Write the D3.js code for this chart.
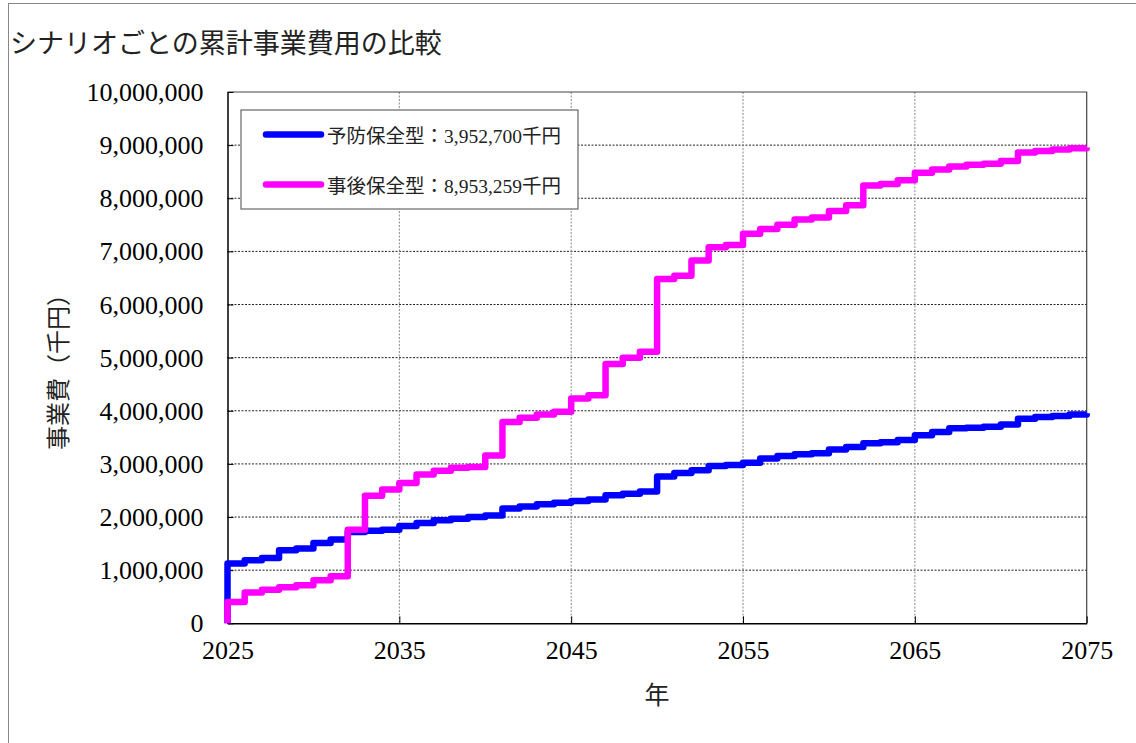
<!DOCTYPE html>
<html><head><meta charset="utf-8">
<script src="https://cdn.jsdelivr.net/npm/d3@7"></script>
<style>
html,body{margin:0;padding:0;background:#fff;}
svg{display:block;}
</style></head>
<body>
<svg id="chart" width="1136" height="743"></svg>
<script>
const title = "シナリオごとの累計事業費用の比較";
const yTitle = "事業費（千円）";
const xTitle = "年";
const seriesNames = ["予防保全型：3,952,700千円", "事後保全型：8,953,259千円"];
const seriesColors = ["#0000ff", "#ff00ff"];
const years = d3.range(2025, 2076);
const xTicks = [2025, 2035, 2045, 2055, 2065, 2075];
const yTicks = [0,1000000,2000000,3000000,4000000,5000000,6000000,7000000,8000000,9000000,10000000];
const preventive = [1124000,1186000,1230000,1375000,1410000,1510000,1575000,1720000,1740000,1760000,
  1830000,1890000,1940000,1970000,2000000,2030000,2160000,2200000,2240000,2270000,
  2300000,2330000,2410000,2440000,2480000,2765000,2830000,2880000,2960000,2980000,
  3020000,3100000,3150000,3180000,3200000,3270000,3320000,3390000,3410000,3450000,
  3540000,3600000,3670000,3680000,3700000,3740000,3850000,3885000,3900000,3930000,3952700];
const corrective = [400000,580000,630000,680000,715000,810000,885000,1760000,2400000,2520000,
  2640000,2800000,2870000,2930000,2940000,3160000,3790000,3870000,3930000,3980000,
  4230000,4290000,4880000,5000000,5110000,6480000,6540000,6830000,7080000,7120000,
  7330000,7420000,7500000,7600000,7640000,7760000,7870000,8240000,8270000,8340000,
  8480000,8540000,8600000,8630000,8650000,8700000,8860000,8890000,8920000,8940000,8953259];

const svg = d3.select("#chart");
const serif = "'Liberation Serif','Noto Sans CJK JP',serif";
const cjk = "'Noto Sans CJK JP','Liberation Serif',sans-serif";

// outer frame
svg.append("rect").attr("x",8.5).attr("y",3.5).attr("width",1140).attr("height",760)
  .attr("fill","#fff").attr("stroke","#888").attr("stroke-width",1);

const L = 227.5, R = 1086.7, T = 92, B = 623.3;
const x = d3.scaleLinear().domain([2025, 2075]).range([L, R]);
const y = d3.scaleLinear().domain([0, 10000000]).range([B, T]);

// gridlines
svg.append("g").selectAll("line").data(yTicks.slice(1, -1)).join("line")
  .attr("x1", L).attr("x2", R).attr("y1", d => y(d)).attr("y2", d => y(d))
  .attr("stroke", "#222").attr("stroke-width", 1).attr("stroke-dasharray", "2,1.5");
svg.append("g").selectAll("line").data(xTicks.slice(1, -1)).join("line")
  .attr("x1", d => x(d)).attr("x2", d => x(d)).attr("y1", T).attr("y2", B)
  .attr("stroke", "#888").attr("stroke-width", 1).attr("stroke-dasharray", "2,1.5");

// plot border top/right
svg.append("path").attr("d", `M${L},${T}H${R}V${B}`).attr("fill","none")
  .attr("stroke","#444").attr("stroke-width",1.2);

// axes
const yAxis = d3.axisLeft(y).tickValues(yTicks).tickFormat(d3.format(",")).tickSizeInner(-6).tickSizeOuter(0).tickPadding(24);
const gy = svg.append("g").attr("transform", `translate(${L},0)`).call(yAxis);
gy.select(".domain").attr("stroke","#000").attr("stroke-width",1.5);
gy.selectAll(".tick line").attr("stroke","#000");
gy.selectAll(".tick text").attr("font-family", serif).attr("font-size", 26).attr("fill","#000")
  .attr("dy", "0.33em");

const xAxis = d3.axisBottom(x).tickValues(xTicks).tickFormat(d3.format("d")).tickSizeInner(-7).tickSizeOuter(0).tickPadding(17);
const gx = svg.append("g").attr("transform", `translate(0,${B})`).call(xAxis);
gx.select(".domain").attr("stroke","#000").attr("stroke-width",1.5);
gx.selectAll(".tick line").attr("stroke","#000");
gx.selectAll(".tick text").attr("font-family", serif).attr("font-size", 26).attr("fill","#000");

// series
const line = d3.line().x(d => x(d[0])).y(d => y(d[1])).curve(d3.curveStepAfter);
[preventive, corrective].forEach((vals, i) => {
  const pts = [[2025, 0]].concat(years.map((yr, j) => [yr, vals[j]]));
  svg.append("path").datum(pts).attr("d", line).attr("fill","none")
    .attr("stroke", seriesColors[i]).attr("stroke-width", 6.5)
    .attr("stroke-linejoin","round");
});

// title
svg.append("text").attr("x", 10).attr("y", 53).attr("font-family", cjk).attr("font-size", 27)
  .attr("fill","#222").text(title);

// y title
svg.append("text").attr("transform", "translate(67,366) rotate(-90)").attr("text-anchor","middle")
  .attr("font-family", cjk).attr("font-size", 24).attr("fill","#222").text(yTitle);
// x title
svg.append("text").attr("x", 657).attr("y", 704).attr("text-anchor","middle")
  .attr("font-family", cjk).attr("font-size", 25).attr("fill","#222").text(xTitle);

// legend
const lg = svg.append("g");
lg.append("rect").attr("x", 241).attr("y", 110).attr("width", 337).attr("height", 99)
  .attr("fill","#fff").attr("stroke","#666").attr("stroke-width",1.2);
seriesNames.forEach((nm, i) => {
  const cy = 134.5 + i * 50;
  lg.append("line").attr("x1", 266).attr("x2", 321).attr("y1", cy).attr("y2", cy)
    .attr("stroke", seriesColors[i]).attr("stroke-width", 6.5).attr("stroke-linecap","round");
  lg.append("text").attr("x", 327).attr("y", cy + 8.5).attr("font-family", serif)
    .attr("font-size", 19.5).attr("fill","#222").text(nm);
});
</script>
</body></html>
